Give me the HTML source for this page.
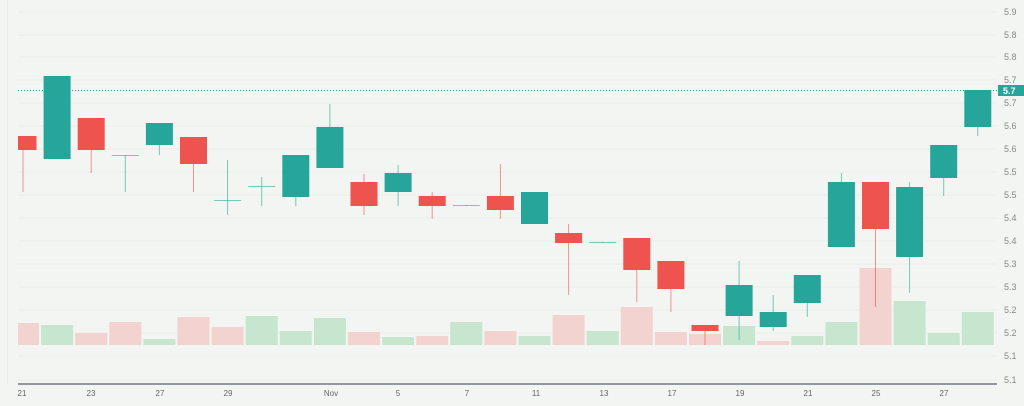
<!DOCTYPE html>
<html><head><meta charset="utf-8"><style>
html,body{margin:0;padding:0;background:#f2f5f1;overflow:hidden;}
svg{display:block;font-family:"Liberation Sans",sans-serif;}
</style></head><body>
<svg id="c" width="1024" height="406" viewBox="0 0 1024 406" xmlns="http://www.w3.org/2000/svg"></svg>
<script>
const s=document.getElementById('c');let h='';
h+='<rect width="1024" height="406" fill="#f2f5f1"/>';
h+='<line x1="7.5" y1="0" x2="7.5" y2="384" stroke="#e8ebe8" stroke-width="1"/>';
const yl=[12,35,57,80,103,126,149,172,195,218,241,264,287,310,333,356,380];
const lb=['5.9','5.8','5.8','5.7','5.7','5.6','5.6','5.5','5.5','5.4','5.4','5.3','5.3','5.2','5.2','5.1','5.1'];
yl.forEach((y,i)=>{h+=`<line x1="18" y1="${y}" x2="997" y2="${y}" stroke="#e9ede9" stroke-width="1"/>`;
h+=`<text x="1004" y="${y+3}" font-size="9" fill="#888">${lb[i]}</text>`;});
const G='#26a69a',R='#ef5350',GV='#c6e6d0',RV='#f2d3d0';
const vol=[['r',323],['g',325],['r',333],['r',322],['g',339],['r',317],['r',327],['g',316],['g',331],['g',318],['r',332],['g',337],['r',336],['g',322],['r',331],['g',336],['r',315],['g',331],['r',307],['r',332],['r',334],['g',326],['r',341],['g',336],['g',322],['r',268],['g',301],['g',333],['g',312]];
const cx=i=>23+i*34.1;
vol.forEach((v,i)=>{let x0=Math.max(18,cx(i)-16),x1=cx(i)+16;h+=`<rect x="${x0}" y="${v[1]}" width="${x1-x0}" height="${345-v[1]}" fill="${v[0]=='g'?GV:RV}"/>`;});
h+='<line x1="18" y1="90.5" x2="997" y2="90.5" stroke="#26a69a" stroke-dasharray="1,2" stroke-width="1"/>';
const c=[['r',136,150,136,192],['g',76,159,76,159],['r',118,150,118,173],['g',155,156,155,192],['g',123,145,123,155],['r',137,164,137,192],['g',200,201,160,215],['g',186,187,177,206],['g',155,197,155,206],['g',127,168,104,168],['r',182,206,174,215],['g',173,192,165,206],['r',196,206,192,219],['g',205,206,205,206],['r',196,210,164,219],['g',192,224,192,224],['r',233,243,224,295],['g',242,243,242,243],['r',238,270,238,302],['r',261,289,261,312],['r',325,331,325,345],['g',285,316,261,340],['g',312,327,295,331],['g',275,303,275,317],['g',182,247,173,247],['r',182,229,182,307],['g',187,257,182,293],['g',145,178,145,196],['g',90,127,90,136]];
c.forEach((d,i)=>{const col=d[0]=='g'?G:R,x=cx(i);
h+=`<line x1="${x}" y1="${d[3]}" x2="${x}" y2="${d[4]}" stroke="${col}" stroke-opacity="0.6" stroke-width="1"/>`;
let x0=Math.max(18,x-13.5),x1=x+13.5,hh=d[2]-d[1];
if(hh<=1)h+=`<line x1="${x0}" y1="${d[1]+0.5}" x2="${x1}" y2="${d[1]+0.5}" stroke="${col}" stroke-opacity="0.6" stroke-width="1"/>`;
else h+=`<rect x="${x0}" y="${d[1]}" width="${x1-x0}" height="${hh}" fill="${col}"/>`;});
h+='<rect x="998" y="85" width="26" height="11" fill="#26a69a"/><text x="1003" y="94" font-size="9" font-weight="bold" fill="#fff">5.7</text>';
h+='<line x1="18" y1="384" x2="997" y2="384" stroke="#5a5e7a" stroke-width="1.2"/>';
const xt=[[22,'21'],[91,'23'],[160,'27'],[228,'29'],[331,'Nov'],[398,'5'],[467,'7'],[536,'11'],[604,'13'],[672,'17'],[740,'19'],[808,'21'],[876,'25'],[944,'27']];
xt.forEach(t=>h+=`<text x="${t[0]}" y="396" font-size="8" fill="#666" text-anchor="middle">${t[1]}</text>`);
s.innerHTML=h;
</script>
</body></html>
